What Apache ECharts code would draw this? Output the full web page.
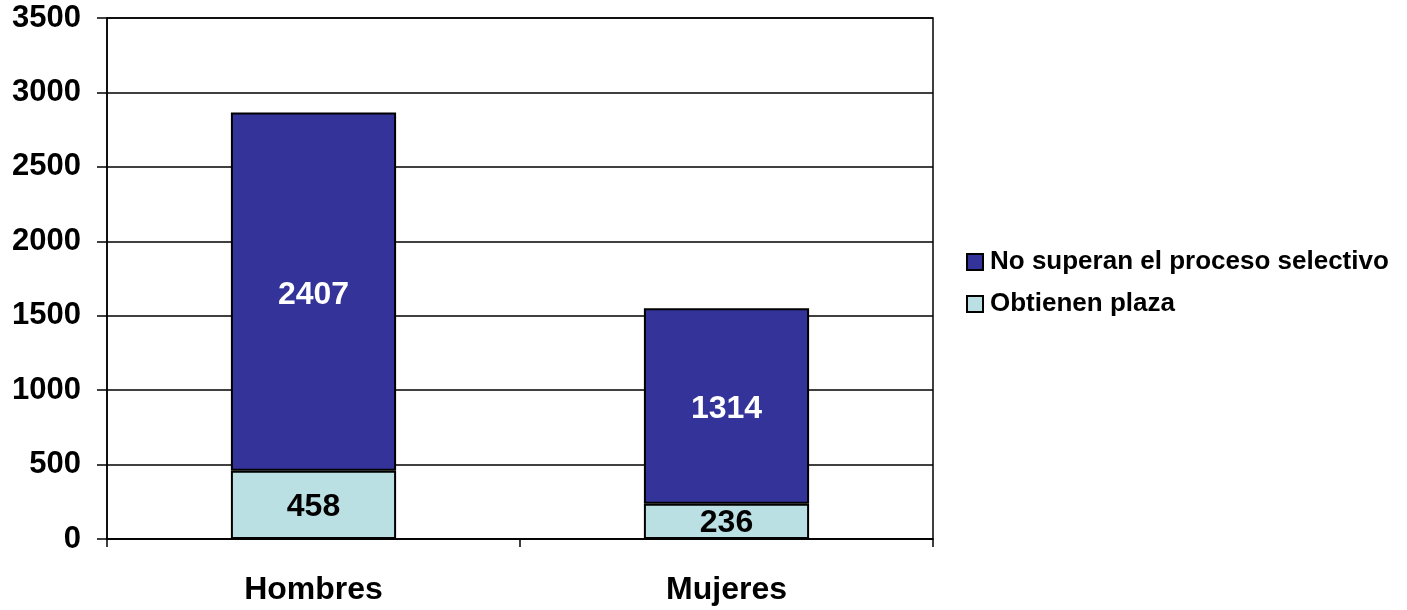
<!DOCTYPE html>
<html>
<head>
<meta charset="utf-8">
<script src="https://cdn.jsdelivr.net/npm/echarts@6/dist/echarts.min.js"></script>
<style>
  html, body { margin: 0; padding: 0; background: #fff; }
  #chart { width: 1407px; height: 610px; }
</style>
</head>
<body>
<div id="chart"></div>
<script>
// datos
const categorias = ["Hombres", "Mujeres"];
const obtienenPlaza = [458, 236];
const noSuperan = [2407, 1314];
const nombres = ["No superan el proceso selectivo", "Obtienen plaza"];

const fuente = "'Liberation Sans', Arial, sans-serif";

const chart = echarts.init(document.getElementById("chart"));
chart.setOption({
  animation: false,
  textStyle: { fontFamily: fuente },
  grid: {
    left: 107, right: 474, top: 18, bottom: 71,
    show: true, borderColor: "#000", borderWidth: 1.5, backgroundColor: "transparent"
  },
  legend: {
    orient: "vertical",
    left: 966, top: 249,
    padding: 0,
    itemWidth: 16, itemHeight: 16, itemGap: 16,
    icon: "rect",
    data: nombres,
    textStyle: { fontSize: 26, fontWeight: "bold", color: "#000", fontFamily: fuente, padding: [0, 0, 0, 2] }
  },
  xAxis: {
    type: "category",
    data: categorias,
    axisLine: { lineStyle: { color: "#000", width: 1.5 } },
    axisTick: { show: true, length: 8, lineStyle: { color: "#000", width: 1.5 } },
    axisLabel: { fontSize: 32, fontWeight: "bold", color: "#000", margin: 35, fontFamily: fuente }
  },
  yAxis: {
    type: "value",
    min: 0, max: 3500, interval: 500,
    axisLine: { show: true, lineStyle: { color: "#000", width: 1.5 } },
    axisTick: { show: true, length: 10, lineStyle: { color: "#000", width: 1.5 } },
    splitLine: { show: true, lineStyle: { color: "#000", width: 1.5 } },
    axisLabel: {
      fontSize: 31, fontWeight: "bold", color: "#000", margin: 26, fontFamily: fuente,
      formatter: v => String(v)
    }
  },
  series: [
    {
      name: nombres[1],
      type: "bar",
      stack: "total",
      barWidth: "40%",
      data: obtienenPlaza,
      itemStyle: { color: "#BAE0E3", borderColor: "#000", borderWidth: 2 },
      label: { show: true, position: "inside", offset: [0, 2], fontSize: 32, fontWeight: "bold", color: "#000", fontFamily: fuente }
    },
    {
      name: nombres[0],
      type: "bar",
      stack: "total",
      barWidth: "40%",
      data: noSuperan,
      itemStyle: { color: "#333399", borderColor: "#000", borderWidth: 2 },
      label: { show: true, position: "inside", offset: [0, 3], fontSize: 32, fontWeight: "bold", color: "#fff", fontFamily: fuente }
    }
  ]
});
</script>
</body>
</html>
